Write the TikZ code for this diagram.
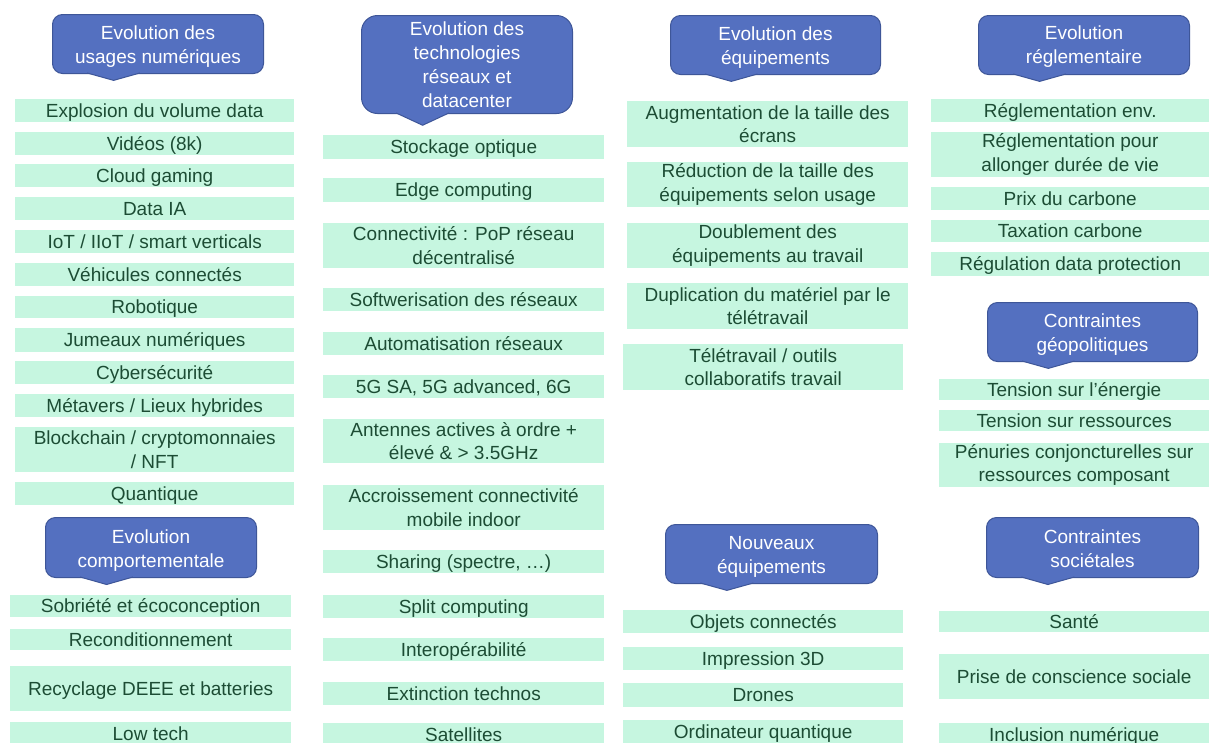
\documentclass[tikz,border=0pt]{standalone}
\usepackage{fontspec}
\setmainfont{Liberation Sans}
\usetikzlibrary{calc}
\definecolor{mint}{RGB}{198,246,224}
\definecolor{dkg}{RGB}{28,76,52}
\definecolor{bfill}{RGB}{84,112,192}
\definecolor{bdraw}{RGB}{62,86,152}
\tikzset{
  gbox/.style={fill=mint, text=dkg, inner sep=0pt, anchor=north west, align=center,
    font=\fontsize{19}{23.5}\selectfont},
  oneline/.style={text height=17pt, text depth=4pt},
  bub/.style={fill=bfill, draw=bdraw, line width=1pt, inner sep=0pt, anchor=north west},
  bubtext/.style={text=white, inner sep=0pt, align=center, font=\fontsize{19}{24}\selectfont},
  ptrline/.style={draw=bdraw, line width=1pt, line join=miter},
}
% \gb{name}{left}{top}{width}{height}{text}  (single line)
\newcommand{\gb}[6]{\node[gbox, oneline, minimum width=#4, minimum height=#5] (#1) at (#2,#3) {#6};}
% \gt{name}{left}{top}{width}{height}{text}  (two lines)
\newcommand{\gt}[6]{\node[gbox, minimum width=#4, minimum height=#5] (#1) at (#2,#3) {#6};}
% \bubble{name}{left}{top}{width}{height}{radius}{text shift}{text}
\newcommand{\bubble}[8]{%
  \node[bub, minimum width=#4, minimum height=#5, rounded corners=#6] (#1) at (#2,#3) {};
  \coordinate (#1-b1) at ({#2+#4/6},{#3+#5});
  \coordinate (#1-b2) at ({#2+5*#4/12},{#3+#5});
  \coordinate (#1-tip) at ({#2+0.292*#4},{#3+1.125*#5});
  \fill[bfill] ($(#1-b1)+(0,-1.6)$) -- ($(#1-b2)+(0,-1.6)$) -- (#1-b2) -- (#1-tip) -- (#1-b1) -- cycle;
  \draw[ptrline] (#1-b1) -- (#1-tip) -- (#1-b2);
  \node[bubtext] (#1-t) at ($(#1.center)+(0,#7)$) {#8};
}
\begin{document}
\begin{tikzpicture}[x=1pt,y=-1pt]
\useasboundingbox (0,0) rectangle (1209,742);
\fill[white] (0,0) rectangle (1209,742);

% callouts
\bubble{c1}{52}{14}{211}{59}{10}{3}{Evolution des\\usages numériques}
\bubble{c2}{361}{15}{211}{98}{16}{0}{Evolution des\\technologies\\réseaux et\\datacenter}
\bubble{c3}{670}{15}{210}{59}{10}{3}{Evolution des\\équipements}
\bubble{c4}{978}{15}{211}{59}{10}{2}{Evolution\\réglementaire}
\bubble{c5}{45}{517}{211}{60}{10}{3}{Evolution\\comportementale}
\bubble{c6}{987}{302}{210}{59}{10}{3}{Contraintes\\géopolitiques}
\bubble{c7}{665}{524}{212}{59}{10}{3}{Nouveaux\\équipements}
\bubble{c8}{986}{517}{212}{60}{10}{1}{Contraintes\\sociétales}

% column 1
\gb{a1}{15}{99}{279}{23}{Explosion du volume data}
\gb{a2}{15}{132}{279}{23}{Vidéos (8k)}
\gb{a3}{15}{164}{279}{23}{Cloud gaming}
\gb{a4}{15}{197}{279}{23}{Data IA}
\gb{a5}{15}{230}{279}{23}{IoT / IIoT / smart verticals}
\gb{a6}{15}{263}{279}{23}{Véhicules connectés}
\gb{a7}{15}{296}{279}{22}{Robotique}
\gb{a8}{15}{328}{279}{24}{Jumeaux numériques}
\gb{a9}{15}{361}{279}{23}{Cybersécurité}
\gb{a10}{15}{394}{279}{23}{Métavers / Lieux hybrides}
\gt{a11}{15}{427}{279}{45}{Blockchain / cryptomonnaies\\/ NFT}
\gb{a12}{15}{482}{279}{23}{Quantique}

\gb{e1}{10}{595}{281}{22}{Sobriété et écoconception}
\gb{e2}{10}{629}{281}{20}{Reconditionnement}
\gb{e3}{10}{666}{281}{45}{Recyclage DEEE et batteries}
\gb{e4}{10}{722}{281}{23}{Low tech}

% column 2
\gb{b1}{323}{135}{281}{24}{Stockage optique}
\gb{b2}{323}{178}{281}{24}{Edge computing}
\gt{b3}{323}{223}{281}{45}{Connectivité : PoP réseau\\décentralisé}
\gb{b4}{323}{288}{281}{23}{Softwerisation des réseaux}
\gb{b5}{323}{332}{281}{23}{Automatisation réseaux}
\gb{b6}{323}{375}{281}{23}{5G SA, 5G advanced, 6G}
\gt{b7}{323}{419}{281}{44}{Antennes actives à ordre +\\élevé \& > 3.5GHz}
\gt{b8}{323}{485}{281}{45}{Accroissement connectivité\\mobile indoor}
\gb{b9}{323}{550}{281}{23}{Sharing (spectre, …)}
\gb{b10}{323}{595}{281}{23}{Split computing}
\gb{b11}{323}{638}{281}{23}{Interopérabilité}
\gb{b12}{323}{682}{281}{23}{Extinction technos}
\gb{b13}{323}{723}{281}{23}{Satellites}

% column 3
\gt{d1}{627}{101}{281}{46}{Augmentation de la taille des\\écrans}
\gt{d2}{627}{162}{281}{45}{Réduction de la taille des\\équipements selon usage}
\gt{d3}{627}{223}{281}{45}{Doublement des\\équipements au travail}
\gt{d4}{627}{283}{281}{46}{Duplication du matériel par le\\télétravail}
\gt{d5}{623}{344}{280}{46}{Télétravail / outils\\collaboratifs travail}

\gb{n1}{623}{610}{280}{23}{Objets connectés}
\gb{n2}{623}{647}{280}{23}{Impression 3D}
\gb{n3}{623}{683}{280}{24}{Drones}
\gb{n4}{623}{720}{280}{23}{Ordinateur quantique}

% column 4
\gb{r1}{931}{99}{278}{23}{Réglementation env.}
\gt{r2}{931}{132}{278}{45}{Réglementation pour\\allonger durée de vie}
\gb{r3}{931}{187}{278}{23}{Prix du carbone}
\gb{r4}{931}{220}{278}{22}{Taxation carbone}
\gb{r5}{931}{252}{278}{24}{Régulation data protection}

\gb{g1}{939}{379}{270}{20}{Tension sur l’énergie}
\gb{g2}{939}{410}{270}{21}{Tension sur ressources}
\gt{g3}{939}{443}{270}{44}{Pénuries conjoncturelles sur\\ressources composant}

\gb{s1}{939}{611}{270}{19}{Santé}
\gb{s2}{939}{654}{270}{45}{Prise de conscience sociale}
\gb{s3}{939}{723}{270}{23}{Inclusion numérique}
\end{tikzpicture}
\end{document}
